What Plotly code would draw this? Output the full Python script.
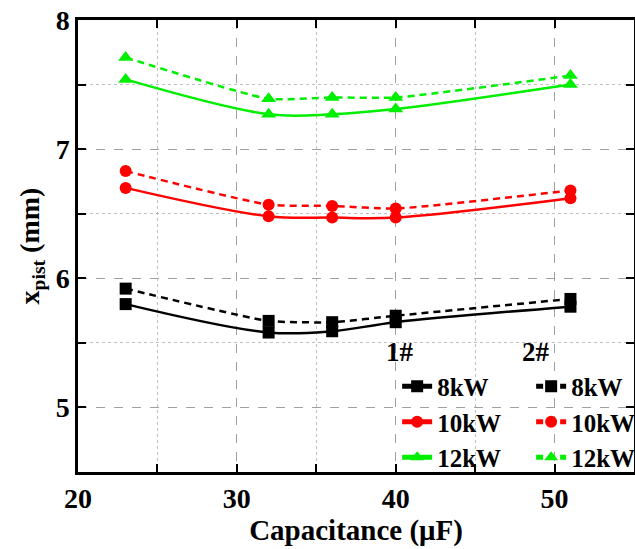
import plotly.graph_objects as go

# Capacitance values (µF)
capacitance = [23, 32, 36, 40, 51]

# Piston displacement x_pist (mm), configuration 1# and 2#
x_8kw_1 = [5.80, 5.58, 5.59, 5.66, 5.78]
x_10kw_1 = [6.70, 6.48, 6.47, 6.47, 6.62]
x_12kw_1 = [7.54, 7.27, 7.27, 7.31, 7.50]

x_8kw_2 = [5.92, 5.67, 5.66, 5.71, 5.84]
x_10kw_2 = [6.83, 6.57, 6.56, 6.54, 6.68]
x_12kw_2 = [7.71, 7.39, 7.40, 7.40, 7.57]

labels = ["8kW", "10kW", "12kW"]
colors = ["#000000", "#FF0000", "#00EE00"]
symbols = ["square", "circle", "triangle-up"]
marker_sizes = [12, 12, 13]

FONT = "Liberation Serif"

fig = go.Figure()

for lab, col, sym, ms, ys in zip(labels, colors, symbols, marker_sizes,
                                 [x_8kw_1, x_10kw_1, x_12kw_1]):
    fig.add_trace(go.Scatter(
        x=capacitance, y=ys, name="<b>" + lab + "</b>", mode="lines+markers",
        line=dict(color=col, width=2.5, shape="spline", smoothing=1.0),
        marker=dict(symbol=sym, size=ms, color=col),
        legend="legend",
    ))

for lab, col, sym, ms, ys in zip(labels, colors, symbols, marker_sizes,
                                 [x_8kw_2, x_10kw_2, x_12kw_2]):
    fig.add_trace(go.Scatter(
        x=capacitance, y=ys, name="<b>" + lab + "</b>", mode="lines+markers",
        line=dict(color=col, width=2.5, dash="7px,5px", shape="spline", smoothing=0.5),
        marker=dict(symbol=sym, size=ms, color=col),
        legend="legend2",
    ))

# Column headers of the two legend groups
fig.add_annotation(x=40.25, y=5.43, text="<b>1#</b>", showarrow=False,
                   font=dict(family=FONT, size=27, color="black"))
fig.add_annotation(x=48.8, y=5.43, text="<b>2#</b>", showarrow=False,
                   font=dict(family=FONT, size=27, color="black"))

legend_common = dict(
    font=dict(family=FONT, size=25, color="black"),
    bgcolor="rgba(0,0,0,0)", borderwidth=0, tracegroupgap=0,
    yanchor="top", xanchor="left", itemsizing="constant",
)

fig.update_layout(
    width=642, height=549,
    margin=dict(l=78, r=2, t=20, b=77),
    plot_bgcolor="white", paper_bgcolor="white",
    showlegend=True,
    legend=dict(x=0.574, y=0.24, **legend_common),
    legend2=dict(x=0.815, y=0.24, **legend_common),
    font=dict(family=FONT, color="black"),
)

fig.update_xaxes(
    range=[20, 55], dtick=10, tick0=20,
    showline=True, linecolor="black", linewidth=2.5, mirror="ticks",
    ticks="inside", ticklen=8, tickwidth=2, tickcolor="black",
    tickfont=dict(family=FONT, size=28, color="black"),
    tickprefix="<b>", ticksuffix="</b>",
    showgrid=True, gridcolor="#A0A0A0", gridwidth=1, griddash="dash",
    minor=dict(dtick=5, ticks="inside", ticklen=8, tickwidth=2, tickcolor="black",
               showgrid=True, gridcolor="#C0C0C0", gridwidth=1, griddash="dot"),
    zeroline=False,
    title=dict(text="<b>Capacitance (μF)</b>", font=dict(family=FONT, size=29, color="black"),
               standoff=6),
)

fig.update_yaxes(
    range=[4.5, 8], dtick=1, tick0=5,
    showline=True, linecolor="black", linewidth=2.5, mirror="ticks",
    ticks="inside", ticklen=8, tickwidth=2, tickcolor="black",
    tickfont=dict(family=FONT, size=28, color="black"),
    tickprefix="<b>", ticksuffix="</b>",
    showgrid=True, gridcolor="#A0A0A0", gridwidth=1, griddash="dash",
    minor=dict(dtick=0.5, ticks="inside", ticklen=8, tickwidth=2, tickcolor="black",
               showgrid=True, gridcolor="#C0C0C0", gridwidth=1, griddash="dot"),
    zeroline=False,
    title=dict(text="<b>x<sub>pist</sub> (mm)</b>", font=dict(family=FONT, size=28, color="black"),
               standoff=8),
)

fig.write_html("out.html", post_script="document.body.style.overflow='hidden';document.body.style.margin='0';")
